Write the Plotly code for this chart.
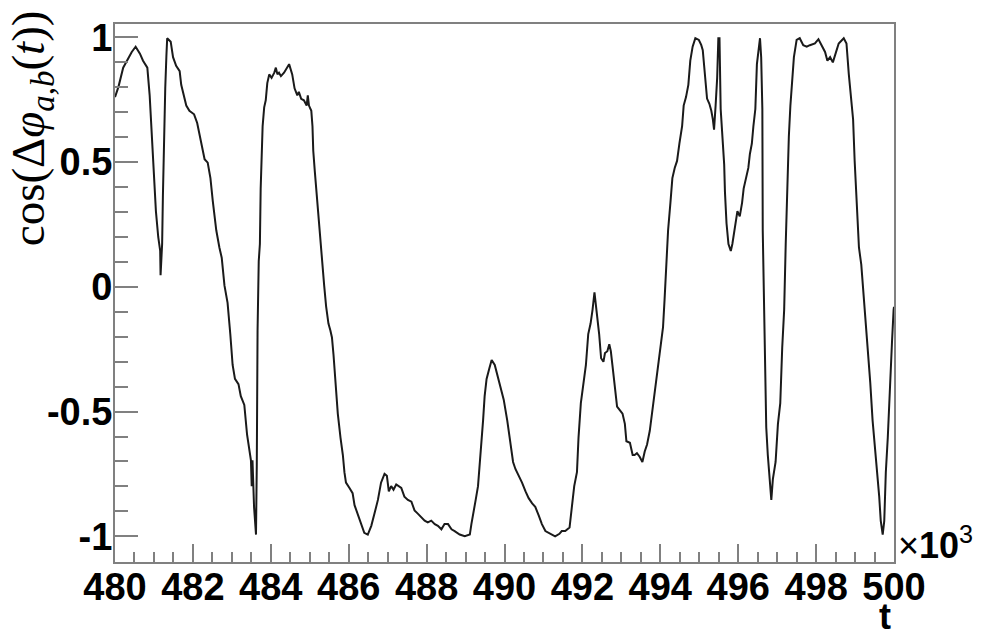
import plotly.graph_objects as go

# ---------------------------------------------------------
# datos (t en unidades de 10^3)
# ---------------------------------------------------------
t_seg1 = [480.00, 480.09, 480.21, 480.30, 480.43, 480.53, 480.64, 480.72, 480.83, 480.89,
          480.95, 481.00, 481.05, 481.11, 481.16, 481.17, 481.21, 481.23, 481.26, 481.29,
          481.32, 481.34, 481.43, 481.49, 481.57, 481.66, 481.70, 481.79, 481.83, 481.91,
          482.03, 482.11, 482.20, 482.30, 482.38, 482.45, 482.51, 482.60, 482.68, 482.74,
          482.81, 482.89, 482.96, 483.02, 483.08, 483.17, 483.23, 483.32, 483.39, 483.45,
          483.49, 483.51, 483.53, 483.57, 483.62, 483.64, 483.66, 483.69, 483.72, 483.74,
          483.79, 483.83, 483.87, 483.91, 483.96, 484.02, 484.09, 484.13, 484.17, 484.21,
          484.26, 484.34, 484.47, 484.55, 484.61, 484.68, 484.72, 484.78, 484.85, 484.92,
          484.95, 484.98, 485.04]
v_seg1 = [0.761, 0.803, 0.879, 0.907, 0.942, 0.963, 0.935, 0.907, 0.879, 0.768,
          0.602, 0.421, 0.304, 0.200, 0.144, 0.047, 0.172, 0.366, 0.616, 0.796,
          0.928, 0.997, 0.983, 0.921, 0.886, 0.865, 0.810, 0.748, 0.727, 0.706,
          0.692, 0.657, 0.581, 0.512, 0.498, 0.436, 0.345, 0.227, 0.158, 0.117,
          0.006, -0.064, -0.189, -0.313, -0.369, -0.390, -0.438, -0.473, -0.591, -0.660,
          -0.695, -0.799, -0.695, -0.882, -0.993, -0.716, -0.175, 0.103, 0.172, 0.394,
          0.644, 0.720, 0.748, 0.817, 0.852, 0.838, 0.859, 0.879, 0.852, 0.859,
          0.845, 0.859, 0.893, 0.852, 0.796, 0.768, 0.782, 0.754, 0.748, 0.727,
          0.768, 0.727, 0.706]

t_seg2 = [485.07, 485.09, 485.13, 485.18, 485.24, 485.29, 485.33, 485.37, 485.42, 485.48,
          485.53, 485.57, 485.61, 485.66, 485.72, 485.79, 485.85, 485.89, 485.93, 486.02,
          486.10, 486.15, 486.23, 486.32, 486.40, 486.49, 486.58, 486.66, 486.75, 486.83,
          486.92, 486.98, 487.03, 487.09, 487.15, 487.22, 487.29, 487.35, 487.43, 487.52,
          487.61, 487.69, 487.78, 487.86, 487.95, 488.03, 488.12, 488.21, 488.29, 488.38,
          488.46, 488.55, 488.64, 488.72, 488.85, 488.98, 489.11, 489.15, 489.19, 489.26,
          489.32, 489.36, 489.41, 489.45, 489.49, 489.54, 489.61, 489.67, 489.75, 489.84,
          489.92]
v_seg2 = [0.644, 0.546, 0.463, 0.366, 0.227, 0.158, 0.089, 0.006, -0.078, -0.147,
          -0.175, -0.203, -0.272, -0.397, -0.508, -0.605, -0.674, -0.743, -0.785, -0.806,
          -0.827, -0.875, -0.910, -0.951, -0.986, -0.993, -0.958, -0.910, -0.854, -0.785,
          -0.750, -0.757, -0.820, -0.799, -0.813, -0.792, -0.799, -0.806, -0.841, -0.854,
          -0.861, -0.896, -0.910, -0.924, -0.937, -0.944, -0.937, -0.951, -0.958, -0.972,
          -0.951, -0.951, -0.972, -0.979, -0.993, -1.000, -0.993, -0.951, -0.910, -0.854,
          -0.799, -0.716, -0.646, -0.535, -0.438, -0.369, -0.327, -0.293, -0.313, -0.369,
          -0.420]

t_seg3 = [489.98, 490.07, 490.15, 490.22, 490.28, 490.37, 490.45, 490.54, 490.62, 490.71,
          490.79, 490.88, 490.96, 491.05, 491.17, 491.30, 491.41, 491.47, 491.56, 491.67,
          491.73, 491.79, 491.86, 491.90, 491.96, 492.03, 492.09, 492.15, 492.21, 492.26,
          492.31, 492.35, 492.38, 492.43, 492.48, 492.54, 492.58, 492.64, 492.69, 492.73,
          492.77, 492.83, 492.89, 492.96, 493.03, 493.09, 493.13, 493.22, 493.29, 493.34,
          493.40, 493.47, 493.54, 493.60, 493.66, 493.73, 493.80, 493.86, 493.91, 493.97,
          494.03, 494.07, 494.11, 494.15, 494.20, 494.26, 494.31, 494.37, 494.43, 494.49,
          494.56, 494.60, 494.66, 494.72]
v_seg3 = [-0.452, -0.535, -0.632, -0.702, -0.730, -0.757, -0.785, -0.820, -0.847, -0.868,
          -0.882, -0.917, -0.951, -0.979, -0.990, -1.000, -0.990, -0.979, -0.979, -0.965,
          -0.882, -0.799, -0.743, -0.605, -0.466, -0.383, -0.313, -0.189, -0.147, -0.092,
          -0.022, -0.078, -0.119, -0.189, -0.286, -0.300, -0.265, -0.258, -0.230, -0.258,
          -0.313, -0.397, -0.480, -0.494, -0.508, -0.549, -0.619, -0.625, -0.674, -0.674,
          -0.667, -0.681, -0.702, -0.660, -0.632, -0.577, -0.494, -0.411, -0.369, -0.300,
          -0.216, -0.161, -0.050, 0.089, 0.227, 0.338, 0.436, 0.477, 0.505, 0.574,
          0.644, 0.727, 0.761, 0.810]

t_seg4 = [494.77, 494.83, 494.90, 494.99, 495.05, 495.09, 495.12, 495.16, 495.20, 495.26,
          495.31, 495.35, 495.38, 495.42, 495.46, 495.49, 495.52, 495.55, 495.59, 495.62,
          495.64, 495.66, 495.70, 495.75, 495.81, 495.85, 495.92, 495.98, 496.04, 496.10,
          496.14, 496.20, 496.26, 496.30, 496.35, 496.39, 496.44, 496.48, 496.52, 496.56,
          496.59, 496.62, 496.63, 496.68, 496.72, 496.76, 496.81, 496.85, 496.89, 496.96,
          497.02, 497.08, 497.13, 497.18, 497.22, 497.26, 497.30, 497.34, 497.39, 497.43,
          497.50, 497.58, 497.67, 497.76, 497.84, 497.97, 498.06, 498.15, 498.23, 498.29,
          498.36, 498.43, 498.49, 498.58, 498.71, 498.78, 498.84, 498.90, 498.95, 498.99,
          499.06, 499.10, 499.16, 499.21, 499.27, 499.33, 499.39, 499.45, 499.51, 499.56,
          499.62, 499.66, 499.71, 499.75, 499.79, 499.84, 499.88, 499.92, 499.95, 499.99,
          500.00]
v_seg4 = [0.907, 0.963, 0.997, 0.990, 0.970, 0.949, 0.893, 0.824, 0.755, 0.734,
          0.706, 0.671, 0.630, 0.727, 0.838, 0.997, 0.997, 0.713, 0.602, 0.533,
          0.491, 0.380, 0.255, 0.172, 0.144, 0.172, 0.241, 0.304, 0.283, 0.338,
          0.394, 0.436, 0.477, 0.533, 0.574, 0.644, 0.713, 0.893, 0.956, 0.997,
          0.921, 0.713, 0.227, -0.230, -0.563, -0.674, -0.771, -0.854, -0.771, -0.702,
          -0.549, -0.466, -0.244, -0.092, 0.172, 0.394, 0.602, 0.727, 0.838, 0.921,
          0.990, 0.997, 0.969, 0.963, 0.969, 0.976, 0.993, 0.969, 0.942, 0.907,
          0.921, 0.900, 0.928, 0.976, 0.997, 0.976, 0.852, 0.755, 0.671, 0.505,
          0.255, 0.158, 0.089, -0.008, -0.119, -0.258, -0.383, -0.535, -0.632, -0.730,
          -0.840, -0.938, -0.993, -0.938, -0.743, -0.605, -0.438, -0.286, -0.216, -0.092,
          -0.080]

x_ticks = [480, 482, 484, 486, 488, 490, 492, 494, 496, 498, 500]
y_ticks = [-1, -0.5, 0, 0.5, 1]
y_ticktext = ["-1", "-0.5", "0", "0.5", "1"]

t_vals = t_seg1 + t_seg2 + t_seg3 + t_seg4
v_vals = v_seg1 + v_seg2 + v_seg3 + v_seg4
assert len(t_vals) == len(v_vals)

GRIS = "#808080"
fuente_ticks = dict(family="Liberation Sans", size=38, color="black", weight="bold")

fig = go.Figure()
fig.add_trace(go.Scatter(
    x=t_vals,
    y=v_vals,
    mode="lines",
    line=dict(color="#1a1a1a", width=2),
    hoverinfo="skip"
))

# la página tiene 8 px de margen en el body: se descuenta aquí
fig.update_layout(
    width=977,
    height=624,
    margin=dict(l=107, r=91, t=9, b=70),
    paper_bgcolor="white",
    plot_bgcolor="white",
    showlegend=False,
    xaxis=dict(
        range=[480, 500],
        tickmode="array",
        tickvals=x_ticks,
        ticktext=[str(v) for v in x_ticks],
        ticks="inside",
        ticklen=18,
        tickwidth=2,
        tickcolor=GRIS,
        showline=True,
        linecolor=GRIS,
        linewidth=2,
        mirror=True,
        showgrid=False,
        zeroline=False,
        tickfont=fuente_ticks,
        ticklabelstandoff=-10,
        minor=dict(tickmode="linear", tick0=480, dtick=0.5, ticks="inside",
                   ticklen=10, tickwidth=2, tickcolor=GRIS, showgrid=False)
    ),
    yaxis=dict(
        range=[-1.103, 1.054],
        tickmode="array",
        tickvals=y_ticks,
        ticktext=y_ticktext,
        ticks="inside",
        ticklen=23,
        tickwidth=2,
        tickcolor=GRIS,
        showline=True,
        linecolor=GRIS,
        linewidth=2,
        mirror=True,
        showgrid=False,
        zeroline=False,
        tickfont=fuente_ticks,
        ticklabelstandoff=-7,
        minor=dict(tickmode="linear", tick0=0, dtick=0.1, ticks="inside",
                   ticklen=13, tickwidth=2, tickcolor=GRIS, showgrid=False)
    )
)

# título del eje y (arriba, rotado)
fig.add_annotation(
    text="cos(Δ<i>φ</i><sub><i>a,b</i></sub>(<i>t</i>))",
    xref="paper", yref="paper",
    x=(31 - 115) / 779, y=(562 - 1) / 545,
    xanchor="center", yanchor="top",
    textangle=-90, showarrow=False,
    font=dict(family="Liberation Serif", size=47, color="black")
)

# título del eje x
fig.add_annotation(
    text="<b>t</b>",
    xref="paper", yref="paper",
    x=(885 - 115) / 779, y=(562 - 617) / 545,
    xanchor="center", yanchor="middle",
    showarrow=False,
    font=dict(family="Liberation Sans", size=36, color="black")
)

# factor de escala
fig.add_annotation(
    text="×<b>10</b><sup>3</sup>",
    xref="paper", yref="paper",
    x=(896 - 115) / 779, y=(562 - 543) / 545,
    xanchor="left", yanchor="middle",
    showarrow=False,
    font=dict(family="Liberation Sans", size=36, color="black")
)

fig.write_html("out.html")
